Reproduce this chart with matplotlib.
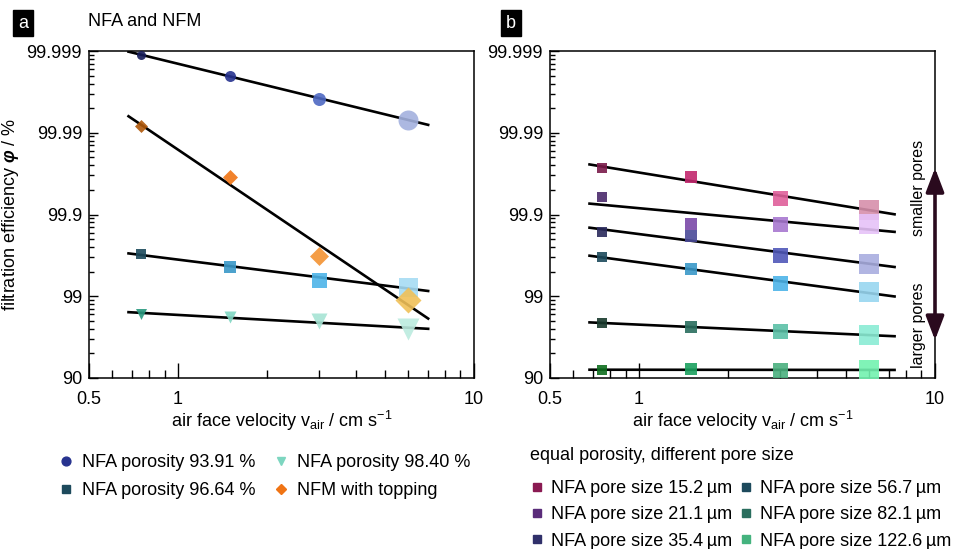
import numpy as np
import matplotlib
matplotlib.use("Agg")
import matplotlib.pyplot as plt
from matplotlib.lines import Line2D
from matplotlib.ticker import FixedLocator, FixedFormatter, NullFormatter

plt.rcParams['font.family'] = ['Liberation Sans', 'DejaVu Sans']
plt.rcParams['mathtext.fontset'] = 'custom'
plt.rcParams['mathtext.rm'] = 'Liberation Sans'
plt.rcParams['mathtext.it'] = 'Liberation Sans:italic'
plt.rcParams['mathtext.bf'] = 'Liberation Sans:bold:italic'
plt.rcParams['font.size'] = 13

# air face velocity in cm/s (same for all series)
velocity = [0.75, 1.5, 3.0, 6.0]

# panel a: filtration efficiency in %
phi_por_9391 = [99.99888, 99.9980, 99.99611, 99.99308]
phi_por_9664 = [99.70, 99.56, 99.37, 99.24]
phi_por_9840 = [98.34, 98.22, 98.00, 97.46]
phi_nfm_top = [99.9917, 99.965, 99.676, 98.88]
labels_a = ["NFA porosity 93.91 %", "NFA porosity 96.64 %",
            "NFA porosity 98.40 %", "NFM with topping"]

# panel b: filtration efficiency in %
phi_pore_152 = [99.9728, 99.9649, 99.9376, 99.9119]
phi_pore_211 = [99.9395, 99.869, 99.871, 99.868]
phi_pore_354 = [99.838, 99.817, 99.687, 99.602]
phi_pore_567 = [99.672, 99.532, 99.305, 99.121]
phi_pore_821 = [97.89, 97.60, 97.34, 97.02]
phi_pore_1226 = [92.02, 92.17, 92.02, 92.02]
labels_b = ["NFA pore size 15.2\u2009\u00b5m", "NFA pore size 21.1\u2009\u00b5m",
            "NFA pore size 35.4\u2009\u00b5m", "NFA pore size 56.7\u2009\u00b5m",
            "NFA pore size 82.1\u2009\u00b5m", "NFA pore size 122.6\u2009\u00b5m"]

y_ticks = [1, 2, 3, 4, 5]
y_ticklabels = ["90", "99", "99.9", "99.99", "99.999"]

PX = 0.72  # px -> pt at dpi 100

# styles (colours per point, getting lighter with velocity)
style_a = [
    ('o', ['#161c5a', '#27338f', '#4d68c2', '#a3b1de'], [9, 11, 13, 20], '#27338f'),
    ('s', ['#1d4a5c', '#3a98c8', '#4db4e8', '#a6dcf3'], [10, 12, 15, 19], '#1d4a5c'),
    ('v', ['#2a9a80', '#80d6c2', '#a6e4d4', '#bcebdf'], [11, 12, 16, 22], '#7dd6c0'),
    ('D', ['#b0580a', '#f07414', '#f39232', '#f0c058'], [9.2, 10.6, 13.4, 18.4], '#f07414'),
]
style_b = [
    ['#7a1a4a', '#c2286e', '#df5f9a', '#d68fab'],
    ['#4a2a6c', '#7a48a8', '#a878d0', '#e6c2f8'],
    ['#2a2a5c', '#4a4a98', '#5058b8', '#a9addf'],
    ['#1d4a5c', '#3a98c8', '#4db4e8', '#98d6f0'],
    ['#18392c', '#2a6e5e', '#5bc0a6', '#8aecd4'],
    ['#0e6e1e', '#1aa05e', '#4ab07e', '#72f2b0'],
]
legend_b_colors = ['#8a1a52', '#5a2c7a', '#30306a', '#1d4a5c', '#2a6e5e', '#44b37e']
sizes_b = [10, 12, 15, 20]


def nines(phi):
    return -np.log10(1 - np.asarray(phi) / 100.0)


def style_axis(ax):
    ax.set_xscale('log')
    ax.set_xlim(0.5, 10)
    ax.set_ylim(1, 5)
    ax.xaxis.set_major_locator(FixedLocator([0.5, 1, 10]))
    ax.xaxis.set_major_formatter(FixedFormatter(["0.5", "1", "10"]))
    ax.xaxis.set_minor_locator(FixedLocator([0.6, 0.7, 0.8, 0.9] + list(range(2, 10))))
    ax.xaxis.set_minor_formatter(NullFormatter())
    ax.yaxis.set_major_locator(FixedLocator(y_ticks))
    ax.yaxis.set_major_formatter(FixedFormatter(y_ticklabels))
    minor_y = [d + np.log10(k) for d in range(1, 5) for k in range(2, 10)]
    ax.yaxis.set_minor_locator(FixedLocator(minor_y))
    ax.tick_params(axis='x', which='major', direction='in', length=11, width=1, pad=9,
                   labelsize=13, top=False)
    ax.tick_params(axis='x', which='minor', direction='in', length=6, width=1, top=False)
    ax.tick_params(axis='y', which='major', direction='in', length=6.5, width=1, pad=5,
                   labelsize=13, right=False)
    ax.tick_params(axis='y', which='minor', direction='in', length=3.5, width=1, right=False)
    for sp in ax.spines.values():
        sp.set_linewidth(1.1)
    ax.set_xlabel(r"air face velocity v$_{\rm air}$ / cm s$^{-1}$", fontsize=13, labelpad=1)


def draw_series(ax, phi, marker, colors, sizes, fit_range):
    y = nines(phi)
    lx = np.log10(velocity)
    coef = np.polyfit(lx, y, 1)
    xs = np.array(fit_range)
    ax.plot(xs, coef[0] * np.log10(xs) + coef[1], color='black', lw=1.9, zorder=2)
    for xv, yv, c, s in zip(velocity, y, colors, sizes):
        ax.scatter([xv], [yv], marker=marker, s=(s * PX) ** 2, color=c,
                   linewidths=0, alpha=0.9, zorder=3)


def plot_panel_a(fig):
    ax = fig.add_axes([89 / 955, 171 / 549, 385 / 955, 327 / 549])
    style_axis(ax)
    ax.set_ylabel(r"filtration efficiency $\mathbf{\varphi}$ / %", fontsize=13, labelpad=4)
    data = [phi_por_9391, phi_por_9664, phi_por_9840, phi_nfm_top]
    handles = []
    for phi, (mk, cols, sz, lc) in zip(data, style_a):
        draw_series(ax, phi, mk, cols, sz, (0.68, 7.0))
        handles.append(Line2D([], [], ls='none', marker=mk, color=lc,
                              markersize=(8 if mk != 'D' else 6.5) * PX * 1.1))
    fig.legend(handles, labels_a,
               loc='upper left', bbox_to_anchor=(57 / 955, 1 - 454 / 549), ncol=2,
               frameon=False, fontsize=13, handlelength=1.0, handletextpad=0.4,
               columnspacing=0.9, labelspacing=0.6, borderpad=0, borderaxespad=0)
    fig.text(88 / 955, 1 - 22 / 549, "NFA and NFM", fontsize=13, va='center', ha='left')
    fig.text(23 / 955, 1 - 23 / 549, "a", fontsize=13, color='white', va='center', ha='center',
             bbox=dict(boxstyle='square,pad=0.25', facecolor='black', edgecolor='black'))
    return ax


def plot_panel_b(fig):
    ax = fig.add_axes([550 / 955, 171 / 549, 385 / 955, 327 / 549])
    style_axis(ax)
    data = [phi_pore_152, phi_pore_211, phi_pore_354, phi_pore_567, phi_pore_821, phi_pore_1226]
    handles = []
    for phi, cols, lc in zip(data, style_b, legend_b_colors):
        draw_series(ax, phi, 's', cols, sizes_b, (0.68, 7.3))
        handles.append(Line2D([], [], ls='none', marker='s', color=lc, markersize=8 * PX * 1.1))
    fig.legend(handles, labels_b, loc='upper left', bbox_to_anchor=(528 / 955, 1 - 480 / 549),
               ncol=2, frameon=False, fontsize=13, handlelength=1.0, handletextpad=0.25,
               columnspacing=0.3, labelspacing=0.52, borderpad=0, borderaxespad=0)
    fig.text(530 / 955, 1 - 455 / 549, "equal porosity, different pore size", fontsize=13,
             va='center', ha='left')
    fig.text(511 / 955, 1 - 23 / 549, "b", fontsize=13, color='white', va='center', ha='center',
             bbox=dict(boxstyle='square,pad=0.25', facecolor='black', edgecolor='black'))
    # pore size arrow
    ax.annotate('', xy=(1.0, 0.642), xytext=(1.0, 0.116), xycoords='axes fraction',
                annotation_clip=False,
                arrowprops=dict(arrowstyle='<|-|>,head_length=1.1,head_width=0.42',
                                color='#2a0a1e', lw=2.6, shrinkA=0, shrinkB=0))
    ax.text(0.958, 0.58, "smaller pores", transform=ax.transAxes, rotation=90,
            fontsize=11.5, ha='center', va='center')
    ax.text(0.958, 0.162, "larger pores", transform=ax.transAxes, rotation=90,
            fontsize=11.5, ha='center', va='center')
    return ax


def main():
    fig = plt.figure(figsize=(9.55, 5.49), dpi=100)
    plot_panel_a(fig)
    plot_panel_b(fig)
    fig.savefig("out.png", dpi=100)


if __name__ == "__main__":
    main()
